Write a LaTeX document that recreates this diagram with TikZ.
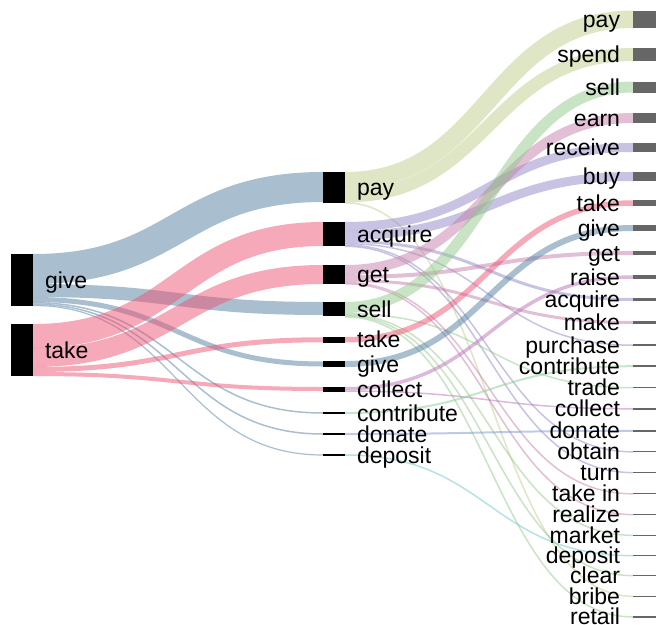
\documentclass[tikz,border=0pt]{standalone}
\usepackage{fontspec}
\setmainfont{Liberation Sans}
\usetikzlibrary{positioning,calc,backgrounds}
\definecolor{giveblue}{RGB}{83,127,161}
\definecolor{takepink}{RGB}{237,83,115}
\definecolor{payolive}{RGB}{191,205,139}
\definecolor{acqviolet}{RGB}{145,135,199}
\definecolor{getmauve}{RGB}{199,127,173}
\definecolor{sellgreen}{RGB}{147,201,139}
\definecolor{collectmauve}{RGB}{185,115,181}
\definecolor{contribgreen}{RGB}{137,205,153}
\definecolor{donateblue}{RGB}{123,149,209}
\definecolor{depositcyan}{RGB}{107,197,197}
\definecolor{outgrey}{HTML}{666666}
\tikzset{
  verbbar/.style={fill=black, inner sep=0pt, outer sep=0pt, minimum width=22pt, anchor=north west},
  outbar/.style={verbbar, fill=outgrey, minimum width=23pt},
  wordlabel/.style={inner sep=0pt, outer sep=0pt, font=\fontsize{23}{23}\selectfont,
                    text height=20.7pt, text depth=4.6pt, node distance=12pt},
  linkband/.style={line cap=butt, draw opacity=0.5},
}
\newcommand\verblink[6]{%
  \path (#1.north east) ++(0,#2) coordinate (la) (#3.north west) ++(0,#4) coordinate (lb);
  \path ($(la)!.5!(lb)$) coordinate (lm);
  \draw[linkband, #6, line width=#5pt] (la) .. controls (lm |- la) and (lm |- lb) .. (lb);
}

\begin{document}
\begin{tikzpicture}[x=1pt, y=-1pt]
    \useasboundingbox (0,0) rectangle (656,624);
    \node[verbbar, minimum height=52pt] (L-give) at (11,254) {};
    \node[verbbar, minimum height=52pt] (L-take) at (11,324) {};
    \node[wordlabel, right=of L-give] (L-give-text) {give};
    \node[wordlabel, right=of L-take] (L-take-text) {take};

    \node[verbbar, minimum height=31pt] (M-pay) at (323,172) {};
    \node[verbbar, minimum height=24pt] (M-acquire) at (323,222) {};
    \node[verbbar, minimum height=19pt] (M-get) at (323,265) {};
    \node[verbbar, minimum height=14pt] (M-sell) at (323,302) {};
    \node[verbbar, minimum height=5.5pt] (M-take) at (323,337) {};
    \node[verbbar, minimum height=6pt] (M-give) at (323,361) {};
    \node[verbbar, minimum height=4.5pt] (M-collect) at (323,387) {};
    \node[verbbar, minimum height=2pt] (M-contribute) at (323,412) {};
    \node[verbbar, minimum height=2pt] (M-donate) at (323,433) {};
    \node[verbbar, minimum height=1.2pt] (M-deposit) at (323,454.4) {};
    \node[wordlabel, right=of M-pay] (M-pay-text) {pay};
    \node[wordlabel, right=of M-acquire] (M-acquire-text) {acquire};
    \node[wordlabel, right=of M-get] (M-get-text) {get};
    \node[wordlabel, right=of M-sell] (M-sell-text) {sell};
    \node[wordlabel, right=of M-take] (M-take-text) {take};
    \node[wordlabel, right=of M-give] (M-give-text) {give};
    \node[wordlabel, right=of M-collect] (M-collect-text) {collect};
    \node[wordlabel, right=of M-contribute] (M-contribute-text) {contribute};
    \node[wordlabel, right=of M-donate] (M-donate-text) {donate};
    \node[wordlabel, right=of M-deposit] (M-deposit-text) {deposit};

    \node[outbar, minimum height=17.5pt] (R-pay) at (633,10.5) {};
    \node[outbar, minimum height=13pt] (R-spend) at (633,48) {};
    \node[outbar, minimum height=11pt] (R-sell) at (633,81.5) {};
    \node[outbar, minimum height=10pt] (R-earn) at (633,113) {};
    \node[outbar, minimum height=9pt] (R-receive) at (633,143) {};
    \node[outbar, minimum height=9pt] (R-buy) at (633,172) {};
    \node[outbar, minimum height=6pt] (R-take) at (633,200) {};
    \node[outbar, minimum height=6pt] (R-give) at (633,225) {};
    \node[outbar, minimum height=4pt] (R-get) at (633,251) {};
    \node[outbar, minimum height=4pt] (R-raise) at (633,275) {};
    \node[outbar, minimum height=3pt] (R-acquire) at (633,298) {};
    \node[outbar, minimum height=3pt] (R-make) at (633,321) {};
    \node[outbar, minimum height=1.6pt] (R-purchase) at (633,344.4) {};
    \node[outbar, minimum height=1.6pt] (R-contribute) at (633,365.4) {};
    \node[outbar, minimum height=1.4pt] (R-trade) at (633,387) {};
    \node[outbar, minimum height=1.6pt] (R-collect) at (633,408) {};
    \node[outbar, minimum height=1.6pt] (R-donate) at (633,430) {};
    \node[outbar, minimum height=1.2pt] (R-obtain) at (633,451.2) {};
    \node[outbar, minimum height=1.2pt] (R-turn) at (633,472) {};
    \node[outbar, minimum height=1.2pt] (R-takein) at (633,493.2) {};
    \node[outbar, minimum height=1.2pt] (R-realize) at (633,514) {};
    \node[outbar, minimum height=1.2pt] (R-market) at (633,534.7) {};
    \node[outbar, minimum height=1.2pt] (R-deposit) at (633,555) {};
    \node[outbar, minimum height=1.2pt] (R-clear) at (633,575) {};
    \node[outbar, minimum height=1.2pt] (R-bribe) at (633,595.7) {};
    \node[outbar, minimum height=1.2pt] (R-retail) at (633,616.3) {};
    \node[wordlabel, left=13pt of R-pay] (R-pay-text) {pay};
    \node[wordlabel, left=13pt of R-spend] (R-spend-text) {spend};
    \node[wordlabel, left=13pt of R-sell] (R-sell-text) {sell};
    \node[wordlabel, left=13pt of R-earn] (R-earn-text) {earn};
    \node[wordlabel, left=13pt of R-receive] (R-receive-text) {receive};
    \node[wordlabel, left=13pt of R-buy] (R-buy-text) {buy};
    \node[wordlabel, left=13pt of R-take] (R-take-text) {take};
    \node[wordlabel, left=13pt of R-give] (R-give-text) {give};
    \node[wordlabel, left=13pt of R-get] (R-get-text) {get};
    \node[wordlabel, left=13pt of R-raise] (R-raise-text) {raise};
    \node[wordlabel, left=13pt of R-acquire] (R-acquire-text) {acquire};
    \node[wordlabel, left=13pt of R-make] (R-make-text) {make};
    \node[wordlabel, left=13pt of R-purchase] (R-purchase-text) {purchase};
    \node[wordlabel, left=13pt of R-contribute] (R-contribute-text) {contribute};
    \node[wordlabel, left=13pt of R-trade] (R-trade-text) {trade};
    \node[wordlabel, left=13pt of R-collect] (R-collect-text) {collect};
    \node[wordlabel, left=13pt of R-donate] (R-donate-text) {donate};
    \node[wordlabel, left=13pt of R-obtain] (R-obtain-text) {obtain};
    \node[wordlabel, left=13pt of R-turn] (R-turn-text) {turn};
    \node[wordlabel, left=13pt of R-takein] (R-takein-text) {take in};
    \node[wordlabel, left=13pt of R-realize] (R-realize-text) {realize};
    \node[wordlabel, left=13pt of R-market] (R-market-text) {market};
    \node[wordlabel, left=13pt of R-deposit] (R-deposit-text) {deposit};
    \node[wordlabel, left=13pt of R-clear] (R-clear-text) {clear};
    \node[wordlabel, left=13pt of R-bribe] (R-bribe-text) {bribe};
    \node[wordlabel, left=13pt of R-retail] (R-retail-text) {retail};

    \begin{scope}[on background layer]
    \verblink{L-give}{15}{M-pay}{15}{30}{giveblue}
    \verblink{L-give}{36.5}{M-sell}{6.5}{13}{giveblue}
    \verblink{L-give}{45.5}{M-give}{3}{5}{giveblue}
    \verblink{L-give}{48.7}{M-contribute}{1}{1.5}{giveblue}
    \verblink{L-give}{50.2}{M-donate}{1}{1.5}{giveblue}
    \verblink{L-give}{51.5}{M-deposit}{0.6}{1.2}{giveblue}
    \verblink{L-take}{12}{M-acquire}{12}{24}{takepink}
    \verblink{L-take}{33.5}{M-get}{9.5}{19}{takepink}
    \verblink{L-take}{45.5}{M-take}{2.75}{5}{takepink}
    \verblink{L-take}{50}{M-collect}{2}{4}{takepink}

    \verblink{M-pay}{8.75}{R-pay}{8.75}{17.5}{payolive}
    \verblink{M-pay}{24}{R-spend}{6.5}{13}{payolive}
    \verblink{M-pay}{30.8}{R-bribe}{0.6}{1.5}{payolive}
    \verblink{M-acquire}{4.5}{R-receive}{4.5}{9}{acqviolet}
    \verblink{M-acquire}{13.5}{R-buy}{4.5}{9}{acqviolet}
    \verblink{M-acquire}{19.5}{R-acquire}{1.5}{3}{acqviolet}
    \verblink{M-acquire}{21.7}{R-purchase}{0.8}{1.5}{acqviolet}
    \verblink{M-acquire}{23}{R-obtain}{0.6}{1.5}{acqviolet}
    \verblink{M-acquire}{24.3}{R-turn}{0.6}{1.5}{acqviolet}
    \verblink{M-get}{5}{R-earn}{5}{10}{getmauve}
    \verblink{M-get}{12}{R-get}{2}{4}{getmauve}
    \verblink{M-get}{15.5}{R-make}{1.5}{3}{getmauve}
    \verblink{M-get}{17.6}{R-takein}{0.6}{1.5}{getmauve}
    \verblink{M-get}{18.8}{R-realize}{0.6}{1.5}{getmauve}
    \verblink{M-sell}{5.5}{R-sell}{5.5}{11}{sellgreen}
    \verblink{M-sell}{11.6}{R-trade}{0.7}{1.5}{sellgreen}
    \verblink{M-sell}{12.7}{R-market}{0.6}{1.5}{sellgreen}
    \verblink{M-sell}{13.8}{R-clear}{0.6}{1.5}{sellgreen}
    \verblink{M-sell}{14.9}{R-retail}{0.6}{1.5}{sellgreen}
    \verblink{M-take}{2.75}{R-take}{3}{5.5}{takepink}
    \verblink{M-give}{3}{R-give}{3}{6}{giveblue}
    \verblink{M-collect}{1.75}{R-raise}{2}{3.5}{collectmauve}
    \verblink{M-collect}{4.1}{R-collect}{0.8}{1.5}{collectmauve}
    \verblink{M-contribute}{1}{R-contribute}{0.8}{2}{contribgreen}
    \verblink{M-donate}{1}{R-donate}{0.8}{2}{donateblue}
    \verblink{M-deposit}{0.6}{R-deposit}{0.6}{1.5}{depositcyan}
    \end{scope}
  \end{tikzpicture}
\end{document}
